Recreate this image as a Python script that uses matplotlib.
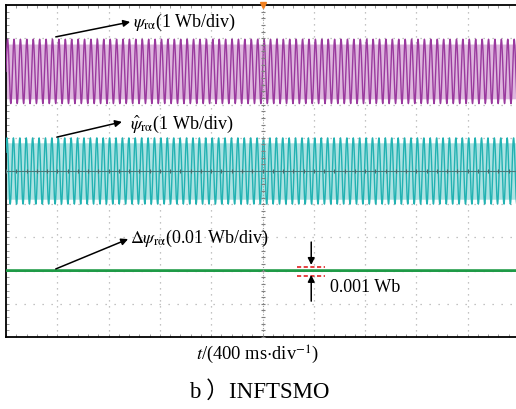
import numpy as np
import matplotlib
matplotlib.use("Agg")
import matplotlib.pyplot as plt

plt.rcParams['font.family'] = ['Liberation Serif', 'Noto Sans CJK SC', 'DejaVu Sans']
plt.rcParams['mathtext.fontset'] = 'stix'

# Scope traces, in screen divisions (10 x 10 div, 400 ms/div)
n_div_x = 10
n_div_y = 10
cycles = 80                  # periods shown across the screen
psi_offset, psi_amp = 3.0, 0.97          # psi_ra, 1 Wb/div
psi_hat_offset, psi_hat_amp = 0.0, 1.0   # estimated psi_ra, 1 Wb/div
dpsi_offset, dpsi_amp = -3.0, 0.0        # error, 0.01 Wb/div

labels = [r'$\psi_{\mathrm{r\alpha}}$(1 Wb/div)',
          r'$\hat{\psi}_{\mathrm{r\alpha}}$(1 Wb/div)',
          r'$\Delta\psi_{\mathrm{r\alpha}}$(0.01 Wb/div)']

t = np.linspace(0, n_div_x, cycles * 24 + 1)
phase = 2 * np.pi * cycles * t / n_div_x
psi = psi_offset + psi_amp * np.sin(phase)
psi_hat = psi_hat_offset + psi_hat_amp * np.sin(phase + 0.6)
dpsi = dpsi_offset + dpsi_amp * np.sin(phase)

fig = plt.figure(figsize=(5.16, 4.10), dpi=100)
ax = fig.add_axes([6 / 516, 72 / 410, 513 / 516, 332 / 410])
ax.set_xlim(0, n_div_x)
ax.set_ylim(-n_div_y / 2, n_div_y / 2)

# dotted graticule
grid_col = '#b0b0b0'
for x in range(1, n_div_x):
    if x != 5:
        ax.axvline(x, color=grid_col, lw=0.9, ls=(0, (1, 3.8)), zorder=1)
for y in range(-4, 5):
    if y != 0:
        ax.axhline(y, color=grid_col, lw=0.9, ls=(0, (1, 6.2)), zorder=1)

# traces
ax.fill_between(t, psi_offset - 0.85 * psi_amp, psi_offset + 0.85 * psi_amp,
                color='#deb6de', lw=0, zorder=2)
ax.plot(t, psi, color='#9a3a9e', lw=1.0, zorder=3)
ax.fill_between(t, psi_hat_offset - 0.85 * psi_hat_amp, psi_hat_offset + 0.85 * psi_hat_amp,
                color='#ace2e2', lw=0, zorder=2)
ax.plot(t, psi_hat, color='#22b2b2', lw=1.0, zorder=3)
ax.plot(t, dpsi, color='#1e9a46', lw=2.0, zorder=3)

# centre cross with small ticks
ax.axvline(5, color='#9a9a9a', lw=0.8, ls=(0, (1, 1.5)), zorder=4)
ax.axhline(0, color='#4a7a7a', lw=0.8, zorder=4)
ax.plot(np.full(51, 5.0), np.linspace(-5, 5, 51), ls='none', marker='_', ms=3.5, mew=0.8,
        color='#808080', zorder=4)
ax.plot(np.linspace(0, 10, 51), np.zeros(51), ls='none', marker='|', ms=3.5, mew=0.8,
        color='#4a6a6a', zorder=4)
ax.plot([5], [5], marker='v', ms=4, color='#f08020', clip_on=False, zorder=6)

# frame
ax.set_xticks(np.linspace(0, 10, 51))
ax.set_yticks(np.linspace(-5, 5, 51))
ax.tick_params(direction='in', length=2, width=0.6, color='#888888',
               labelbottom=False, labelleft=False, top=True, right=False)
for s in ['left', 'top', 'bottom']:
    ax.spines[s].set_linewidth(1.3)
    ax.spines[s].set_color('black')
ax.spines['right'].set_visible(False)

# annotations
arr = dict(arrowstyle='-|>', color='black', lw=1.1, mutation_scale=10, shrinkA=0, shrinkB=0)
ax.annotate('', xy=(2.42, 4.49), xytext=(0.97, 4.04), arrowprops=arr, zorder=7)
ax.text(2.48, 4.49, labels[0], fontsize=13, va='center', ha='left', zorder=7)
ax.annotate('', xy=(2.26, 1.48), xytext=(0.99, 1.02), arrowprops=arr, zorder=7)
ax.text(2.42, 1.42, labels[1], fontsize=13, va='center', ha='left', zorder=7)
ax.annotate('', xy=(2.38, -2.05), xytext=(0.97, -2.95), arrowprops=arr, zorder=7)
ax.text(2.42, -1.99, labels[2], fontsize=13, va='center', ha='left', zorder=7)

# ripple band marker
ax.plot([5.67, 6.22], [-2.89, -2.89], color='#e02020', lw=1.2, ls=(0, (2.5, 1.5)), zorder=6)
ax.plot([5.67, 6.22], [-3.16, -3.16], color='#e02020', lw=1.2, ls=(0, (2.5, 1.5)), zorder=6)
ax.annotate('', xy=(5.95, -2.83), xytext=(5.95, -2.14), arrowprops=arr, zorder=7)
ax.annotate('', xy=(5.95, -3.13), xytext=(5.95, -3.92), arrowprops=arr, zorder=7)
ax.text(6.32, -3.49, '0.001 Wb', fontsize=13, va='center', ha='left', zorder=7)

fig.text(258 / 516, 1 - 355 / 410, r'$t$/(400 ms$\cdot$div$^{-1}$)', fontsize=13.3,
         ha='center', va='center')
fig.text(189 / 516, 1 - 392 / 410, 'b ）INFTSMO', fontsize=16.5, ha='left', va='center')

fig.savefig('out.png', dpi=100)
